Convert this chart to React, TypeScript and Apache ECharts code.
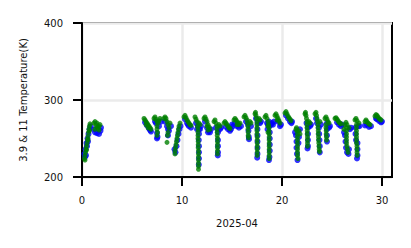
import React, { useEffect, useRef } from "react";
import * as echarts from "echarts";

const X_TICKS = [0, 10, 20, 30];
const Y_TICKS = [200, 300, 400];
const X_LABEL = "2025-04";
const Y_LABEL = "3.9 & 11 Temperature(K)";

// 3.9 µm brightness temperature (blue) [day, K]
const BLUE_39 = [
  [0.25,230],[0.35,236],[0.45,244],[0.55,250],[0.65,256],[0.75,262],[0.85,266],[0.3,226],[0.5,240],[0.4,228],[0.6,246],
  [1.3,258],[1.5,257],[1.7,256],[1.85,260],[1.9,264],[1.2,262],
  [6.3,271],[6.5,267],[6.7,263],[6.9,259],[6.8,261],
  [7.4,270],[7.5,257],[7.55,252],[7.5,250],[7.7,266],[7.9,272],[7.3,272],
  [8.3,272],[8.5,266],[8.6,262],[8.6,254],[8.7,260],[8.9,266],
  [9.35,232],[9.45,240],[9.55,248],[9.65,256],[9.75,262],[9.85,266],[9.25,236],
  [10.3,275],[10.5,270],[10.7,266],[10.9,264],[10.6,268],
  [11.4,270],[11.6,266],[11.7,262],[11.7,256],[11.68,248],[11.7,240],[11.7,232],[11.7,224],[11.68,216],[11.8,262],[11.9,266],[11.5,262],
  [12.3,272],[12.5,264],[12.6,258],[12.7,260],[12.9,262],[12.8,258],
  [13.4,264],[13.6,258],[13.6,248],[13.6,240],[13.6,232],[13.58,228],[13.8,262],[13.9,264],
  [14.4,265],[14.6,262],[14.8,260],[14.9,262],
  [15.0,268],[15.1,266],[15.3,270],[15.5,266],[15.7,264],[15.9,266],
  [16.4,272],[16.6,268],[16.65,260],[16.68,252],[16.7,249],[16.9,266],
  [17.4,276],[17.55,270],[17.55,262],[17.55,254],[17.55,246],[17.55,238],[17.55,230],[17.52,225],[17.8,270],[17.9,272],
  [18.5,270],[18.6,268],[18.7,272],[18.75,266],[18.78,258],[18.78,250],[18.78,242],[18.78,234],[18.75,226],[18.7,222],[18.9,268],[18.55,262],
  [19.0,270],[19.1,268],[19.2,272],[19.6,272],[19.8,266],[19.9,268],
  [20.4,280],[20.6,276],[20.8,272],[20.95,270],[21.0,272],
  [21.3,258],[21.4,254],[21.45,246],[21.45,238],[21.5,230],[21.55,222],[21.7,252],[21.8,262],[21.65,244],
  [22.45,270],[22.6,264],[22.6,256],[22.6,248],[22.6,240],[22.55,237],[22.8,266],[22.9,268],
  [23.5,270],[23.7,264],[23.72,256],[23.75,248],[23.78,240],[23.78,232],[23.9,268],[23.4,276],
  [24.5,270],[24.5,262],[24.5,254],[24.5,246],[24.8,266],[24.7,264],
  [25.5,271],[25.7,268],[25.9,266],[26.0,268],
  [26.2,258],[26.3,254],[26.35,246],[26.4,238],[26.5,232],[26.65,230],[26.7,236],[26.8,262],[26.9,264],
  [27.35,264],[27.35,256],[27.4,248],[27.55,244],[27.55,236],[27.55,228],[27.5,224],[27.6,266],[27.75,266],
  [28.3,267],[28.5,268],[28.7,265],[28.9,266],
  [29.5,275],[29.7,273],[29.9,271],[30.0,272],[29.4,276],
];

// 11 µm brightness temperature (green) [day, K]
const GREEN_11 = [
  [0.25,224],[0.3,228],[0.35,232],[0.4,236],[0.45,240],[0.5,244],[0.55,249],[0.6,253],[0.65,258],[0.7,262],[0.75,266],[0.8,269],[0.3,222],[0.45,235],[0.6,248],[0.75,260],
  [1.2,270],[1.3,272],[1.4,268],[1.5,265],[1.6,263],[1.7,266],[1.8,268],[1.3,262],[1.5,270],[1.7,261],
  [6.2,276],[6.3,274],[6.4,272],[6.5,270],[6.6,268],[6.7,266],[6.8,264],[6.9,262],[6.4,268],[6.6,264],
  [7.2,276],[7.3,278],[7.4,275],[7.5,272],[7.6,270],[7.7,273],[7.8,276],[7.5,266],[7.5,262],[7.55,258],[7.5,254],
  [8.2,276],[8.3,278],[8.4,276],[8.5,272],[8.6,268],[8.7,264],[8.6,258],[8.55,254],[8.5,245],[8.8,270],
  [9.3,234],[9.35,238],[9.4,242],[9.45,246],[9.5,250],[9.55,254],[9.6,258],[9.65,262],[9.7,266],[9.8,270],[9.3,230],
  [10.2,278],[10.3,280],[10.4,277],[10.5,274],[10.6,272],[10.7,270],[10.8,268],[10.9,267],
  [11.3,278],[11.4,275],[11.5,272],[11.55,266],[11.6,262],[11.6,258],[11.6,254],[11.6,250],[11.62,246],[11.62,242],[11.62,238],[11.65,234],[11.65,230],[11.65,226],[11.65,222],[11.65,218],[11.65,214],[11.65,210],[11.7,270],[11.8,268],
  [12.2,276],[12.3,278],[12.4,275],[12.5,272],[12.6,268],[12.7,265],[12.8,262],[12.5,266],[12.6,261],
  [13.2,272],[13.3,274],[13.4,270],[13.5,266],[13.5,262],[13.52,258],[13.52,254],[13.55,250],[13.55,246],[13.55,242],[13.55,238],[13.55,234],[13.55,230],[13.7,268],[13.8,266],
  [14.2,270],[14.3,272],[14.4,270],[14.5,268],[14.6,266],[14.7,264],[14.8,263],
  [15.2,274],[15.3,276],[15.4,274],[15.5,272],[15.6,270],[15.7,268],[15.8,270],[15.5,268],
  [16.2,278],[16.3,280],[16.4,277],[16.5,274],[16.55,270],[16.6,266],[16.6,262],[16.62,258],[16.62,254],[16.65,251],[16.8,272],[16.9,270],
  [17.3,282],[17.35,284],[17.4,280],[17.45,276],[17.5,272],[17.5,268],[17.5,264],[17.5,260],[17.5,256],[17.52,252],[17.52,248],[17.52,244],[17.52,240],[17.52,236],[17.52,232],[17.52,228],[17.7,276],[17.8,274],
  [18.3,278],[18.4,280],[18.5,276],[18.6,272],[18.65,268],[18.7,264],[18.7,260],[18.72,256],[18.72,252],[18.72,248],[18.72,244],[18.72,240],[18.72,236],[18.72,232],[18.72,228],[18.72,224],[18.6,266],[18.6,258],
  [19.3,280],[19.4,282],[19.5,279],[19.6,276],[19.7,273],[19.8,270],[19.5,274],
  [20.3,283],[20.4,285],[20.5,282],[20.6,279],[20.7,277],[20.8,275],[20.9,273],
  [21.4,262],[21.45,264],[21.5,260],[21.55,256],[21.55,252],[21.55,248],[21.55,244],[21.55,240],[21.55,236],[21.55,232],[21.55,228],[21.6,224],[21.7,260],[21.8,256],
  [22.3,282],[22.35,284],[22.4,280],[22.45,276],[22.5,272],[22.5,268],[22.5,264],[22.52,260],[22.52,256],[22.55,252],[22.55,248],[22.55,244],[22.55,240],[22.7,272],[22.8,270],
  [23.3,282],[23.4,284],[23.45,280],[23.5,276],[23.55,272],[23.6,268],[23.6,264],[23.62,260],[23.62,256],[23.65,252],[23.65,248],[23.68,244],[23.7,240],[23.72,236],[23.75,233],[23.8,272],
  [24.3,276],[24.4,278],[24.5,275],[24.6,272],[24.4,268],[24.4,264],[24.42,260],[24.42,256],[24.45,252],[24.45,248],[24.7,270],
  [25.3,276],[25.4,277],[25.5,275],[25.6,273],[25.7,271],[25.8,270],[25.9,269],
  [26.3,268],[26.4,271],[26.5,268],[26.45,264],[26.45,260],[26.45,256],[26.45,252],[26.45,248],[26.45,244],[26.5,240],[26.55,236],[26.6,232],[26.7,264],[26.2,262],
  [27.3,274],[27.4,276],[27.5,273],[27.45,268],[27.45,264],[27.45,260],[27.45,256],[27.45,252],[27.45,248],[27.45,244],[27.5,240],[27.5,236],[27.5,232],[27.52,228],[27.7,270],
  [28.3,272],[28.4,274],[28.5,272],[28.6,270],[28.7,269],[28.8,268],
  [29.3,279],[29.4,281],[29.5,280],[29.6,278],[29.7,276],[29.8,275],[29.9,274],
];

const FONT = "DejaVu Sans";

export default function App() {
  const ref = useRef<HTMLDivElement>(null);
  useEffect(() => {
    if (!ref.current) return;
    const chart = echarts.init(ref.current, null, { renderer: "svg" });
    const axisCommon = {
      axisLine: { show: true, onZero: false, lineStyle: { color: "#000", width: 2 } },
      axisTick: { show: true, length: 9, lineStyle: { color: "#000", width: 2 } },
      splitLine: { show: true, lineStyle: { color: "#ebebeb", width: 2.5 } },
      nameTextStyle: { fontFamily: FONT, fontSize: 10, color: "#111" },
    };
    chart.setOption({
      animation: false,
      grid: {
        left: 82, right: 19, top: 23, bottom: 71,
        show: true, borderColor: "#000", borderWidth: 2, backgroundColor: "transparent",
      },
      xAxis: {
        type: "value", min: 0, max: 31, interval: 10,
        name: X_LABEL, nameLocation: "middle", nameGap: 41,
        ...axisCommon,
        axisTick: { ...axisCommon.axisTick, customValues: X_TICKS },
        axisLabel: { customValues: X_TICKS, margin: 18, fontFamily: FONT, fontSize: 10, color: "#111" },
      },
      yAxis: {
        type: "value", min: 200, max: 400, interval: 100,
        name: Y_LABEL, nameLocation: "middle", nameGap: 54,
        ...axisCommon,
        axisTick: { ...axisCommon.axisTick, customValues: Y_TICKS },
        axisLabel: { customValues: Y_TICKS, margin: 19, fontFamily: FONT, fontSize: 10, color: "#111" },
      },
      series: [
        {
          type: "scatter", name: "3.9", data: BLUE_39, symbol: "circle", symbolSize: 6,
          itemStyle: { color: "#0000ff" }, z: 2,
        },
        {
          type: "scatter", name: "11", data: GREEN_11, symbol: "circle", symbolSize: 5,
          itemStyle: { color: "#008000" }, z: 3,
        },
      ],
    });
    return () => chart.dispose();
  }, []);
  return (
    <div
      ref={ref}
      style={{ position: "fixed", left: 0, top: 0, width: 411, height: 248, background: "#fff" }}
    />
  );
}
